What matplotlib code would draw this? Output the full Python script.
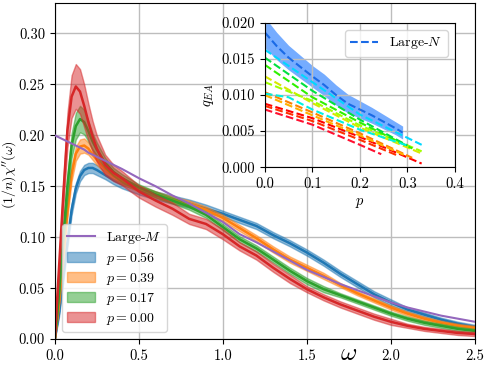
import numpy as np
import matplotlib
matplotlib.use('Agg')
import matplotlib.pyplot as plt

#* Data
omega = [0.0, 0.025, 0.05, 0.075, 0.1, 0.125, 0.15, 0.175, 0.2, 0.225, 0.25, 0.3, 0.35, 0.4,
         0.5, 0.6, 0.7, 0.8, 0.9, 1.0, 1.1, 1.2, 1.3, 1.4, 1.5, 1.6, 1.7, 1.8, 1.9, 2.0,
         2.1, 2.2, 2.3, 2.4, 2.5]

large_m = [0.200, 0.198, 0.196, 0.194, 0.192, 0.190, 0.188, 0.186, 0.183, 0.181, 0.179, 0.175,
           0.171, 0.167, 0.158, 0.150, 0.141, 0.133, 0.124, 0.115, 0.103, 0.095, 0.086, 0.077,
           0.068, 0.061, 0.054, 0.048, 0.042, 0.036, 0.031, 0.027, 0.023, 0.020, 0.017]

chi_p056 = [0.0, 0.025, 0.06, 0.095, 0.127, 0.148, 0.160, 0.166, 0.168, 0.168, 0.166, 0.161,
            0.156, 0.152, 0.146, 0.141, 0.137, 0.133, 0.128, 0.123, 0.117, 0.111, 0.102, 0.094,
            0.085, 0.075, 0.064, 0.054, 0.044, 0.036, 0.029, 0.024, 0.019, 0.015, 0.012]
err_p056 = [0.0, 0.003, 0.004, 0.005, 0.005, 0.005, 0.005, 0.005, 0.005, 0.005, 0.005, 0.004,
            0.004, 0.004, 0.004, 0.004, 0.004, 0.004, 0.004, 0.003, 0.003, 0.003, 0.003, 0.003,
            0.003, 0.003, 0.003, 0.003, 0.003, 0.003, 0.002, 0.002, 0.002, 0.002, 0.002]

chi_p039 = [0.0, 0.035, 0.08, 0.125, 0.162, 0.182, 0.189, 0.190, 0.187, 0.181, 0.176, 0.167,
            0.160, 0.155, 0.148, 0.142, 0.137, 0.133, 0.127, 0.119, 0.109, 0.099, 0.088, 0.078,
            0.070, 0.062, 0.053, 0.045, 0.038, 0.031, 0.025, 0.020, 0.016, 0.013, 0.011]
err_p039 = [0.0, 0.003, 0.005, 0.006, 0.007, 0.007, 0.007, 0.007, 0.006, 0.005, 0.005, 0.004,
            0.003, 0.003, 0.003, 0.003, 0.003, 0.003, 0.003, 0.003, 0.003, 0.003, 0.003, 0.003,
            0.003, 0.003, 0.002, 0.002, 0.002, 0.002, 0.002, 0.002, 0.002, 0.002, 0.002]

chi_p017 = [0.0, 0.045, 0.10, 0.15, 0.19, 0.209, 0.216, 0.213, 0.204, 0.194, 0.186, 0.173,
            0.164, 0.158, 0.149, 0.142, 0.136, 0.130, 0.122, 0.110, 0.098, 0.089, 0.078, 0.067,
            0.057, 0.049, 0.043, 0.037, 0.031, 0.025, 0.020, 0.016, 0.013, 0.010, 0.008]
err_p017 = [0.0, 0.004, 0.008, 0.011, 0.012, 0.013, 0.013, 0.012, 0.010, 0.008, 0.007, 0.005,
            0.004, 0.004, 0.003, 0.003, 0.003, 0.003, 0.003, 0.003, 0.003, 0.003, 0.003, 0.003,
            0.003, 0.003, 0.002, 0.002, 0.002, 0.002, 0.002, 0.002, 0.002, 0.002, 0.002]

chi_p000 = [0.0, 0.07, 0.14, 0.205, 0.238, 0.248, 0.243, 0.229, 0.213, 0.199, 0.187, 0.171,
            0.163, 0.158, 0.145, 0.136, 0.128, 0.118, 0.113, 0.103, 0.091, 0.082, 0.070, 0.059,
            0.049, 0.041, 0.034, 0.028, 0.022, 0.017, 0.013, 0.010, 0.008, 0.006, 0.005]
err_p000 = [0.0, 0.006, 0.012, 0.017, 0.021, 0.022, 0.022, 0.021, 0.018, 0.015, 0.013, 0.010,
            0.008, 0.007, 0.006, 0.006, 0.006, 0.005, 0.005, 0.005, 0.004, 0.004, 0.004, 0.004,
            0.003, 0.003, 0.003, 0.003, 0.003, 0.003, 0.002, 0.002, 0.002, 0.002, 0.002]

series_labels = ['$p = 0.56$', '$p = 0.39$', '$p = 0.17$', '$p = 0.00$']

# inset: q_EA vs p
p_large_n = [0.0, 0.025, 0.05, 0.075, 0.1, 0.125, 0.15, 0.175, 0.2, 0.225, 0.25, 0.275, 0.29]
q_large_n = [0.0187, 0.0168, 0.0152, 0.0139, 0.0126, 0.0114, 0.0100, 0.0088, 0.0080, 0.0072,
             0.0063, 0.0054, 0.0048]
q_large_n_err = [0.0021, 0.0019, 0.0017, 0.0016, 0.0015, 0.0015, 0.0014, 0.0013, 0.0012,
                 0.0011, 0.0010, 0.0009, 0.0009]

q_lines_p = [
    [0.0, 0.1, 0.2, 0.33],
    [0.0, 0.1, 0.2, 0.245],
    [0.0, 0.1, 0.2, 0.28],
    [0.0, 0.1, 0.2, 0.31],
    [0.0, 0.1, 0.2, 0.30],
    [0.0, 0.1, 0.2, 0.33],
    [0.0, 0.1, 0.2, 0.33],
    [0.0, 0.1, 0.2, 0.31],
    [0.0, 0.1, 0.2, 0.30],
    [0.0, 0.1, 0.2, 0.33],
    [0.0, 0.05, 0.1, 0.2, 0.30],
]
q_lines_q = [
    [0.0088, 0.0068, 0.0042, 0.0005],
    [0.0080, 0.0059, 0.0031, 0.0018],
    [0.0085, 0.0064, 0.0038, 0.0016],
    [0.0104, 0.0076, 0.0047, 0.0013],
    [0.0100, 0.0072, 0.0044, 0.0015],
    [0.0126, 0.0089, 0.0055, 0.0019],
    [0.0118, 0.0092, 0.0058, 0.0022],
    [0.0142, 0.0097, 0.0062, 0.0026],
    [0.0152, 0.0106, 0.0066, 0.0030],
    [0.0163, 0.0118, 0.0073, 0.0031],
    [0.0102, 0.0097, 0.0080, 0.0052, 0.0030],
]
q_line_colours = ['#ff0000', '#ff1030', '#ff3000', '#ff8000', '#ffb000', '#d8e800',
                  '#a0ff00', '#30f000', '#00e040', '#00d8ff', '#00f0e0']

#* Style
plt.rcParams['font.family'] = 'serif'
plt.rcParams['font.serif'] = ['cmr10']
plt.rcParams['mathtext.fontset'] = 'cm'
plt.rcParams['axes.formatter.use_mathtext'] = True
plt.rcParams['font.size'] = 10.5
plt.rcParams['axes.unicode_minus'] = False

fig = plt.figure(figsize=(4.85, 3.65), dpi=100)
ax = fig.add_axes([0.113, 0.071, 0.866, 0.921])

grid_kw = dict(color='#bdbdbd', linewidth=1.0)

#* Main plot
ax.plot(omega, large_m, color='C4', lw=1.5, label='Large-$M$', zorder=3)
all_chi = [chi_p056, chi_p039, chi_p017, chi_p000]
all_err = [err_p056, err_p039, err_p017, err_p000]
for i, (chi, err, lab) in enumerate(zip(all_chi, all_err, series_labels)):
    chi = np.array(chi)
    err = np.array(err)
    ax.fill_between(omega, chi - err, chi + err, color=f'C{i}', alpha=0.5, label=lab, zorder=2)
    ax.plot(omega, chi, color=f'C{i}', lw=1.8, zorder=2)

ax.set_xlim(0, 2.5)
ax.set_ylim(0, 0.33)
ax.set_xticks([0.0, 0.5, 1.0, 1.5, 2.0, 2.5])
ax.set_yticks([0.0, 0.05, 0.10, 0.15, 0.20, 0.25, 0.30])
ax.set_xticklabels(['0.0', '0.5', '1.0', '1.5', '2.0', '2.5'])
ax.set_yticklabels(['0.00', '0.05', '0.10', '0.15', '0.20', '0.25', '0.30'])
ax.grid(True, **grid_kw)
ax.set_xlabel(r'$\omega$', fontsize=18)
ax.xaxis.set_label_coords(0.70, -0.012)
ax.set_ylabel(r'$(1/n)\chi^{\prime\prime}(\omega)$', fontsize=10)
ax.yaxis.set_label_coords(-0.088, 0.49)
ax.legend(loc='lower left', fontsize=10, labelspacing=0.28)

#* Inset
ins = fig.add_axes([0.546, 0.542, 0.392, 0.395])
for pp, qq, col in zip(q_lines_p, q_lines_q, q_line_colours):
    ins.plot(pp, qq, '--', color=col, lw=1.5)
qn = np.array(q_large_n)
qe = np.array(q_large_n_err)
ins.fill_between(p_large_n, qn - qe, qn + qe, color='#1a75ff', alpha=0.6, lw=0)
ins.plot(p_large_n, q_large_n, '--', color='#1a6ae6', lw=1.5, label='Large-$N$')
ins.set_xlim(0, 0.4)
ins.set_ylim(0, 0.02)
ins.set_xticks([0.0, 0.1, 0.2, 0.3, 0.4])
ins.set_xticklabels(['0.0', '0.1', '0.2', '0.3', '0.4'])
ins.set_yticks([0.0, 0.005, 0.010, 0.015, 0.020])
ins.set_yticklabels(['0.000', '0.005', '0.010', '0.015', '0.020'])
ins.grid(True, **grid_kw)
ins.set_xlabel('$p$')
ins.set_ylabel('$q_{EA}$')
ins.legend(loc='upper right', fontsize=10)

fig.savefig('out.png', dpi=100)
